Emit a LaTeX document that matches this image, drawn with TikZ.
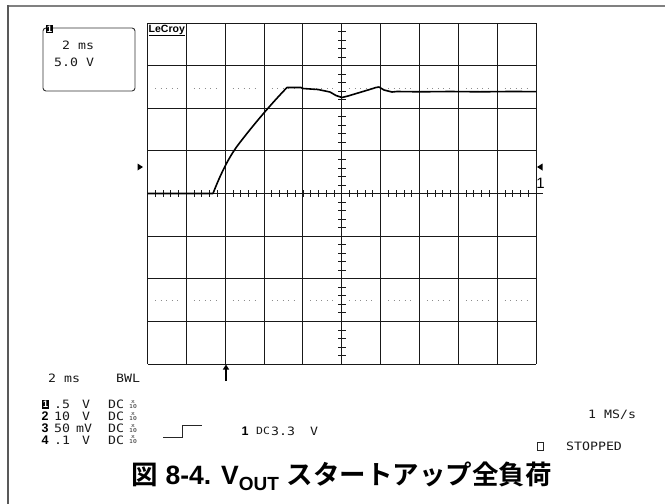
\documentclass[tikz,border=0pt]{standalone}
\usepackage{fontspec}
\newfontfamily\oscfont[FakeStretch=1.15]{DejaVu Sans Mono}
\newfontfamily\capsans{Liberation Sans}
\newfontfamily\cjk{Noto Sans CJK JP}[BoldFont={Noto Sans CJK JP Bold}]
\newfontfamily\lbl{Liberation Sans}
\usetikzlibrary{arrows.meta}
\tikzset{
  gridline/.style={line width=0.9pt, black!90},
  tickmark/.style={line width=0.8pt, black!90},
  dotrow/.style={line width=0.9pt, black!45, dash pattern=on 1pt off 4.5pt},
  wave/.style={line width=1.6pt, black, line join=round},
  scopetext/.style={font=\oscfont\fontsize{11.5}{11.5}\selectfont, inner sep=0pt, text=black!90, anchor=west},
  scopebold/.style={font=\lbl\bfseries\fontsize{12.5}{12.5}\selectfont, inner sep=0pt, text=black, anchor=west},
  tinytext/.style={font=\oscfont\fontsize{5.5}{5}\selectfont, inner sep=0pt, text=black!85, align=center},
  badge/.style={fill=black, text=white, font=\lbl\bfseries\fontsize{9.5}{9.5}\selectfont, inner xsep=0.6pt, inner ysep=0.9pt},
  marker/.style={fill=black, draw=none},
}
\begin{document}
\begin{tikzpicture}[x=1pt,y=-1pt]
\useasboundingbox (0,0) rectangle (665,504);
% frame
\draw[line width=2pt, black!50] (8,6) -- (665,6);
\draw[line width=1.2pt, black!65] (8,5) -- (8,504);
% grid
\foreach \c in {0,...,10} \draw[gridline] ({147.5+\c*38.85},23) -- ({147.5+\c*38.85},364);
\foreach \r in {0,...,8} \draw[gridline] (147.5,{23+\r*42.625}) -- (536,{23+\r*42.625});
\draw[gridline] (536,193.5) -- (543,193.5);
% dotted rows
\foreach \c in {0,...,9} {
  \draw[dotrow] ({147.5+\c*38.85+7.5},88) -- ++(27,0);
  \draw[dotrow] ({147.5+\c*38.85+7.5},300) -- ++(27,0);
}
% axis ticks
\foreach \i in {0,...,50} \draw[tickmark] ({147.5+\i*7.77},190) -- ++(0,7);
\foreach \j in {0,...,40} \draw[tickmark] (338,{23+\j*8.525}) -- ++(8,0);
% waveform
\draw[wave] (147.5,193.5) -- (213,193.5)
  .. controls (221,173) and (229,157) .. (238,145)
  .. controls (254,124) and (272,103) .. (287,87.5)
  -- (301,87.5) -- (303,88.5) -- (318,89.5) -- (330,92) -- (336,95.5) -- (342,97.5)
  -- (348,96) -- (358,93) -- (368,90) -- (376,87.5) -- (379,87)
  -- (384,90) -- (392,92) -- (397,91.5) -- (420,91.8) -- (450,91.5) -- (480,91.8) -- (510,91.5) -- (536,91.6);
% markers
\fill[marker] (137.5,163.5) -- (143,167) -- (137.5,170.5) -- cycle;
\fill[marker] (542.5,163.5) -- (537,167) -- (542.5,170.5) -- cycle;
\node[font=\lbl\fontsize{15}{15}\selectfont, inner sep=0pt] (ch1) at (540.5,183.5) {1};
% trigger arrow
\coordinate (trigbot) at (226,381);
\coordinate (trigtop) at (226,364.5);
\draw[line width=2.3pt, -{Triangle[length=5pt,width=6pt]}] (trigbot) -- (trigtop);
% LeCroy logo
\node[font=\lbl\bfseries\fontsize{10.5}{10.5}\selectfont, inner sep=0pt, anchor=north west] (logo) at (148.5,24.5) {\underline{LeCroy}};
% top-left box
\draw[line width=0.9pt, black!80, rounded corners=3pt] (43,28) rectangle (135,91);
\node[badge] (b1) at (49.5,29) {1};
\node[scopetext] (tdiv) at (62,45) {2 ms};
\node[scopetext] (vdiv) at (54,62) {5.0 V};
% bottom-left readout
\node[scopetext] (tb) at (48,378) {2 ms};
\node[scopetext] (bwl) at (116,378) {BWL};
\node[badge] (n1) at (45.5,404.5) {1};
\node[scopebold] (n2) at (41.5,416.3) {2};
\node[scopebold] (n3) at (41.5,428.1) {3};
\node[scopebold] (n4) at (41.5,439.9) {4};
\node[scopetext] (v1) at (54,404.5) {.5};
\node[scopetext] (v2) at (54,416.3) {10};
\node[scopetext] (v3) at (54,428.1) {50};
\node[scopetext] (v4) at (54,439.9) {.1};
\node[scopetext] (u1) at (82,404.5) {V};
\node[scopetext] (u2) at (82,416.3) {V};
\node[scopetext] (u3) at (76,428.1) {mV};
\node[scopetext] (u4) at (82,439.9) {V};
\node[scopetext] (d1) at (108,404.5) {DC};
\node[scopetext] (d2) at (108,416.3) {DC};
\node[scopetext] (d3) at (108,428.1) {DC};
\node[scopetext] (d4) at (108,439.9) {DC};
\node[tinytext] (p1) at (133,404.5) {x\\10};
\node[tinytext] (p2) at (133,416.3) {x\\10};
\node[tinytext] (p3) at (133,428.1) {x\\10};
\node[tinytext] (p4) at (133,439.9) {x\\10};
% trigger step
\draw[line width=1pt, black!85] (163,437) -- (182,437) -- (182,425) -- (202,425);
\node[scopebold] (tr1) at (241.5,431) {1};
\node[scopetext, font=\oscfont\fontsize{10}{10}\selectfont] (trdc) at (256,431) {DC};
\node[scopetext] (trv) at (271,431) {3.3};
\node[scopetext] (tru) at (310,431) {V};
% right readout
\node[scopetext] (rate) at (588,415) {1 MS/s};
\draw[line width=1pt, black!85] (537,442) rectangle (543,450);
\node[scopetext] (stop) at (566,446) {STOPPED};
% caption
\node[inner sep=0pt, font=\fontsize{26.5}{26.5}\selectfont] (cap) at (341.5,476.5)
  {{\cjk\bfseries 図} {\capsans\bfseries 8-4. V\raisebox{-0.22em}{\fontsize{19}{19}\selectfont OUT}} {\cjk\bfseries スタートアップ全負荷}};
\end{tikzpicture}
\end{document}
